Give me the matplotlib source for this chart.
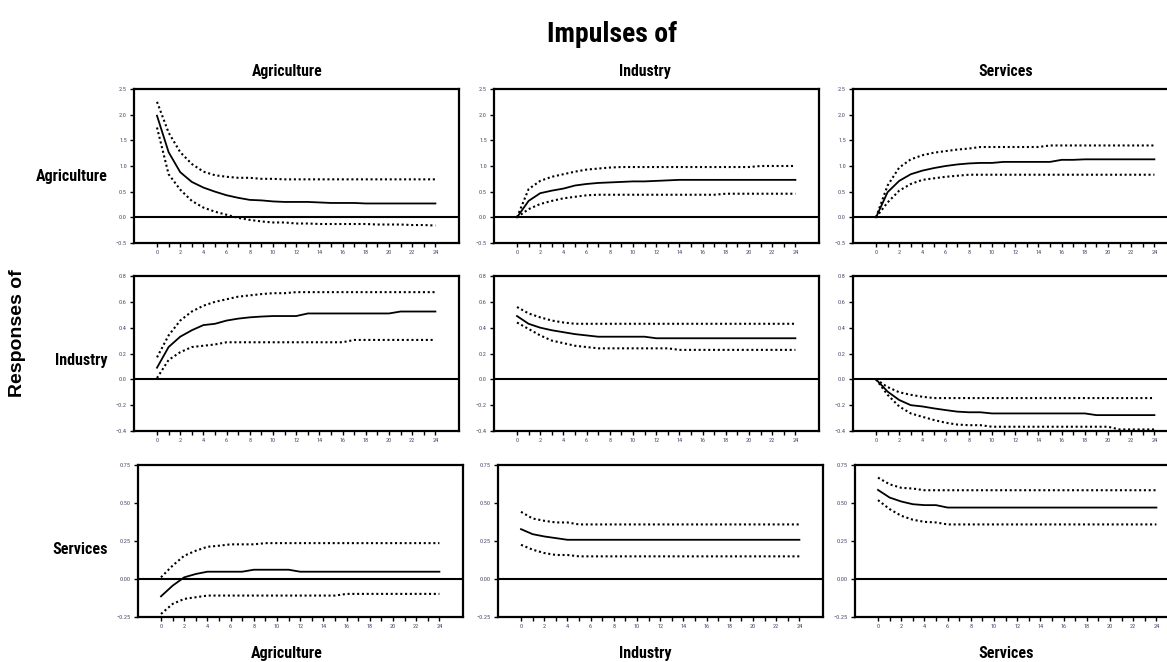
import matplotlib
matplotlib.use("Agg")
import matplotlib.pyplot as plt
from matplotlib import font_manager
from matplotlib.ticker import FixedLocator

_avail = {f.name for f in font_manager.fontManager.ttflist}
_narrow_candidates = ['Liberation Sans Narrow', 'DejaVu Sans Condensed', 'Roboto Condensed',
                      'Open Sans Condensed', 'Noto Sans Condensed', 'Arial Narrow']
NARROW = [f for f in _narrow_candidates if f in _avail] + ['DejaVu Sans']
HAS_NARROW = len(NARROW) > 1
WIDE = ['Liberation Sans', 'DejaVu Sans']

periods = list(range(25))
names = ["Agriculture", "Industry", "Services"]

# Row 0: Responses of Agriculture
agr_agr = [1.98, 1.27, 0.88, 0.69, 0.58, 0.50, 0.43, 0.38, 0.34, 0.33, 0.31, 0.30, 0.30,
           0.30, 0.29, 0.28, 0.28, 0.28, 0.27, 0.27, 0.27, 0.27, 0.27, 0.27, 0.27]
agr_agr_hi = [2.25, 1.65, 1.27, 1.04, 0.89, 0.82, 0.79, 0.77, 0.77, 0.75, 0.75, 0.74, 0.74,
              0.74, 0.74, 0.74, 0.74, 0.74, 0.74, 0.74, 0.74, 0.74, 0.74, 0.74, 0.74]
agr_agr_lo = [1.75, 0.84, 0.54, 0.32, 0.19, 0.11, 0.05, -0.01, -0.05, -0.08, -0.10, -0.10, -0.12,
              -0.12, -0.13, -0.13, -0.13, -0.13, -0.13, -0.14, -0.14, -0.14, -0.15, -0.15, -0.16]

agr_ind = [0.00, 0.32, 0.47, 0.52, 0.56, 0.62, 0.65, 0.67, 0.68, 0.69, 0.70, 0.70, 0.71,
           0.72, 0.73, 0.73, 0.73, 0.73, 0.73, 0.73, 0.73, 0.73, 0.73, 0.73, 0.73]
agr_ind_hi = [0.00, 0.55, 0.71, 0.79, 0.84, 0.89, 0.93, 0.95, 0.97, 0.98, 0.98, 0.98, 0.98,
              0.98, 0.98, 0.98, 0.98, 0.98, 0.98, 0.98, 0.98, 1.00, 1.00, 1.00, 1.00]
agr_ind_lo = [0.00, 0.16, 0.26, 0.32, 0.37, 0.40, 0.43, 0.44, 0.44, 0.44, 0.44, 0.44, 0.44,
              0.44, 0.44, 0.44, 0.44, 0.44, 0.46, 0.46, 0.46, 0.46, 0.46, 0.46, 0.46]

agr_ser = [0.00, 0.49, 0.71, 0.84, 0.91, 0.96, 1.00, 1.03, 1.05, 1.06, 1.06, 1.08, 1.08,
           1.08, 1.08, 1.08, 1.12, 1.12, 1.13, 1.13, 1.13, 1.13, 1.13, 1.13, 1.13]
agr_ser_hi = [0.00, 0.62, 0.97, 1.13, 1.21, 1.26, 1.29, 1.32, 1.34, 1.37, 1.37, 1.37, 1.37,
              1.37, 1.37, 1.40, 1.40, 1.40, 1.40, 1.40, 1.40, 1.40, 1.40, 1.40, 1.40]
agr_ser_lo = [0.00, 0.29, 0.52, 0.65, 0.73, 0.76, 0.79, 0.81, 0.83, 0.83, 0.83, 0.83, 0.83,
              0.83, 0.83, 0.83, 0.83, 0.83, 0.83, 0.83, 0.83, 0.83, 0.83, 0.83, 0.83]

# Row 1: Responses of Industry
ind_agr = [0.09, 0.25, 0.33, 0.38, 0.42, 0.43, 0.455, 0.47, 0.48, 0.486, 0.49, 0.49, 0.49,
           0.51, 0.51, 0.51, 0.51, 0.51, 0.51, 0.51, 0.51, 0.525, 0.525, 0.525, 0.525]
ind_agr_hi = [0.17, 0.34, 0.455, 0.525, 0.57, 0.60, 0.62, 0.64, 0.65, 0.66, 0.667, 0.667, 0.675,
              0.675, 0.675, 0.675, 0.675, 0.675, 0.675, 0.675, 0.675, 0.675, 0.675, 0.675, 0.675]
ind_agr_lo = [0.01, 0.15, 0.21, 0.25, 0.26, 0.27, 0.287, 0.287, 0.287, 0.287, 0.287, 0.287, 0.287,
              0.287, 0.287, 0.287, 0.287, 0.305, 0.305, 0.305, 0.305, 0.305, 0.305, 0.305, 0.305]

ind_ind = [0.49, 0.43, 0.40, 0.38, 0.365, 0.35, 0.34, 0.33, 0.33, 0.33, 0.33, 0.33, 0.318,
           0.318, 0.318, 0.318, 0.318, 0.318, 0.318, 0.318, 0.318, 0.318, 0.318, 0.318, 0.318]
ind_ind_hi = [0.56, 0.51, 0.48, 0.455, 0.44, 0.43, 0.43, 0.43, 0.43, 0.43, 0.43, 0.43, 0.43,
              0.43, 0.43, 0.43, 0.43, 0.43, 0.43, 0.43, 0.43, 0.43, 0.43, 0.43, 0.43]
ind_ind_lo = [0.44, 0.39, 0.34, 0.30, 0.28, 0.26, 0.25, 0.24, 0.24, 0.24, 0.24, 0.24, 0.24,
              0.24, 0.228, 0.228, 0.228, 0.228, 0.228, 0.228, 0.228, 0.228, 0.228, 0.228, 0.228]

ind_ser = [0.00, -0.095, -0.16, -0.20, -0.21, -0.225, -0.238, -0.25, -0.255, -0.255, -0.264, -0.264, -0.264,
           -0.264, -0.264, -0.264, -0.264, -0.264, -0.264, -0.277, -0.277, -0.277, -0.277, -0.277, -0.277]
ind_ser_hi = [0.00, -0.06, -0.10, -0.12, -0.135, -0.145, -0.145, -0.145, -0.145, -0.145, -0.145, -0.145, -0.145,
              -0.145, -0.145, -0.145, -0.145, -0.145, -0.145, -0.145, -0.145, -0.145, -0.145, -0.145, -0.145]
ind_ser_lo = [0.00, -0.12, -0.21, -0.264, -0.29, -0.315, -0.336, -0.35, -0.355, -0.355, -0.367, -0.367, -0.367,
              -0.367, -0.367, -0.367, -0.367, -0.367, -0.367, -0.367, -0.367, -0.388, -0.388, -0.388, -0.388]

# Row 2: Responses of Services
ser_agr = [-0.114, -0.044, 0.011, 0.033, 0.048, 0.048, 0.048, 0.048, 0.061, 0.061, 0.061, 0.061, 0.048,
           0.048, 0.048, 0.048, 0.048, 0.048, 0.048, 0.048, 0.048, 0.048, 0.048, 0.048, 0.048]
ser_agr_hi = [0.011, 0.088, 0.153, 0.186, 0.212, 0.219, 0.228, 0.228, 0.228, 0.236, 0.236, 0.236, 0.236,
              0.236, 0.236, 0.236, 0.236, 0.236, 0.236, 0.236, 0.236, 0.236, 0.236, 0.236, 0.236]
ser_agr_lo = [-0.23, -0.164, -0.131, -0.12, -0.109, -0.109, -0.109, -0.109, -0.109, -0.109, -0.109, -0.109, -0.109,
              -0.109, -0.109, -0.109, -0.098, -0.098, -0.098, -0.098, -0.098, -0.098, -0.098, -0.098, -0.098]

ser_ind = [0.328, 0.295, 0.28, 0.269, 0.258, 0.258, 0.258, 0.258, 0.258, 0.258, 0.258, 0.258, 0.258,
           0.258, 0.258, 0.258, 0.258, 0.258, 0.258, 0.258, 0.258, 0.258, 0.258, 0.258, 0.258]
ser_ind_hi = [0.442, 0.398, 0.383, 0.372, 0.372, 0.359, 0.359, 0.359, 0.359, 0.359, 0.359, 0.359, 0.359,
              0.359, 0.359, 0.359, 0.359, 0.359, 0.359, 0.359, 0.359, 0.359, 0.359, 0.359, 0.359]
ser_ind_lo = [0.225, 0.193, 0.171, 0.158, 0.158, 0.149, 0.149, 0.149, 0.149, 0.149, 0.149, 0.149, 0.149,
              0.149, 0.149, 0.149, 0.149, 0.149, 0.149, 0.149, 0.149, 0.149, 0.149, 0.149, 0.149]

ser_ser = [0.586, 0.536, 0.51, 0.492, 0.486, 0.486, 0.47, 0.47, 0.47, 0.47, 0.47, 0.47, 0.47,
           0.47, 0.47, 0.47, 0.47, 0.47, 0.47, 0.47, 0.47, 0.47, 0.47, 0.47, 0.47]
ser_ser_hi = [0.667, 0.623, 0.60, 0.595, 0.584, 0.584, 0.584, 0.584, 0.584, 0.584, 0.584, 0.584, 0.584,
              0.584, 0.584, 0.584, 0.584, 0.584, 0.584, 0.584, 0.584, 0.584, 0.584, 0.584, 0.584]
ser_ser_lo = [0.519, 0.46, 0.416, 0.39, 0.376, 0.372, 0.359, 0.359, 0.359, 0.359, 0.359, 0.359, 0.359,
              0.359, 0.359, 0.359, 0.359, 0.359, 0.359, 0.359, 0.359, 0.359, 0.359, 0.359, 0.359]

series = [
    [(agr_agr, agr_agr_hi, agr_agr_lo), (agr_ind, agr_ind_hi, agr_ind_lo), (agr_ser, agr_ser_hi, agr_ser_lo)],
    [(ind_agr, ind_agr_hi, ind_agr_lo), (ind_ind, ind_ind_hi, ind_ind_lo), (ind_ser, ind_ser_hi, ind_ser_lo)],
    [(ser_agr, ser_agr_hi, ser_agr_lo), (ser_ind, ser_ind_hi, ser_ind_lo), (ser_ser, ser_ser_hi, ser_ser_lo)],
]

row_ylims = [(-0.5, 2.5), (-0.4, 0.8), (-0.25, 0.75)]
row_yticks = [[-0.5, 0.0, 0.5, 1.0, 1.5, 2.0, 2.5],
              [-0.4, -0.2, 0.0, 0.2, 0.4, 0.6, 0.8],
              [-0.25, 0.0, 0.25, 0.5, 0.75]]
row_fmt = ["{:.1f}", "{:.1f}", "{:.2f}"]


def fmt_tick(v, f):
    s = f.format(abs(v))
    return ("\u2212" + s) if v < 0 else s


W, H = 1167, 662
fig = plt.figure(figsize=(W / 100, H / 100), dpi=100)

row_y = [(89, 243), (276, 431), (465, 617)]
zero_x = [[157, 517, 876], [157, 517, 876], [161, 521, 878]]
unit = 11.6

tsize = 11.3 if HAS_NARROW else 9.5
rsize = 11.5 if HAS_NARROW else 10
bsize = 11.5 if HAS_NARROW else 10
isize = 20 if HAS_NARROW else 16

for r in range(3):
    for c in range(3):
        x0 = zero_x[r][c] - 2 * unit
        x1 = zero_x[r][c] + 26 * unit
        yt, yb = row_y[r]
        ax = fig.add_axes([x0 / W, 1 - yb / H, (x1 - x0) / W, (yb - yt) / H])
        resp, hi, lo = series[r][c]
        ax.plot(periods, resp, color='black', lw=1.3)
        ax.plot(periods, hi, color='black', lw=1.5, ls=(0, (1.0, 1.3)))
        ax.plot(periods, lo, color='black', lw=1.5, ls=(0, (1.0, 1.3)))
        ax.axhline(0, color='black', lw=1.5)
        ax.set_xlim(-2, 26)
        ax.set_ylim(*row_ylims[r])
        ax.xaxis.set_major_locator(FixedLocator(list(range(0, 25, 2))))
        ax.xaxis.set_minor_locator(FixedLocator(list(range(1, 25, 2))))
        ax.set_yticks(row_yticks[r])
        ax.set_yticklabels([fmt_tick(v, row_fmt[r]) for v in row_yticks[r]])
        ax.tick_params(axis='both', which='major', labelsize=4.5, length=3, width=1,
                       colors='black', labelcolor='#4a4a6a', pad=2)
        ax.tick_params(axis='x', which='minor', length=3, width=1)
        for s in ax.spines.values():
            s.set_linewidth(1.6)
        for lab in ax.get_xticklabels() + ax.get_yticklabels():
            lab.set_family(NARROW)

col_cx = [287, 645, 1006]
for c in range(3):
    fig.text(col_cx[c] / W, 1 - 76 / H, names[c], ha='center', va='baseline',
             fontsize=tsize, fontweight='bold', family=NARROW, fontstretch='condensed')
    fig.text(col_cx[c] / W, 1 - 658 / H, names[c], ha='center', va='baseline',
             fontsize=bsize, fontweight='bold', family=NARROW, fontstretch='condensed')

row_cy = [176, 360, 549]
for r in range(3):
    fig.text(108 / W, 1 - row_cy[r] / H, names[r], ha='right', va='center',
             fontsize=rsize, fontweight='bold', family=NARROW, fontstretch='condensed')

fig.text(612 / W, 1 - 35 / H, "Impulses of", ha='center', va='center',
         fontsize=isize, fontweight='bold', family=NARROW, fontstretch='condensed')
fig.text(18 / W, 1 - 333 / H, "Responses of", ha='center', va='center', rotation=90,
         fontsize=14, fontweight='bold', family=WIDE)

fig.savefig("out.png", dpi=100, facecolor='white')
